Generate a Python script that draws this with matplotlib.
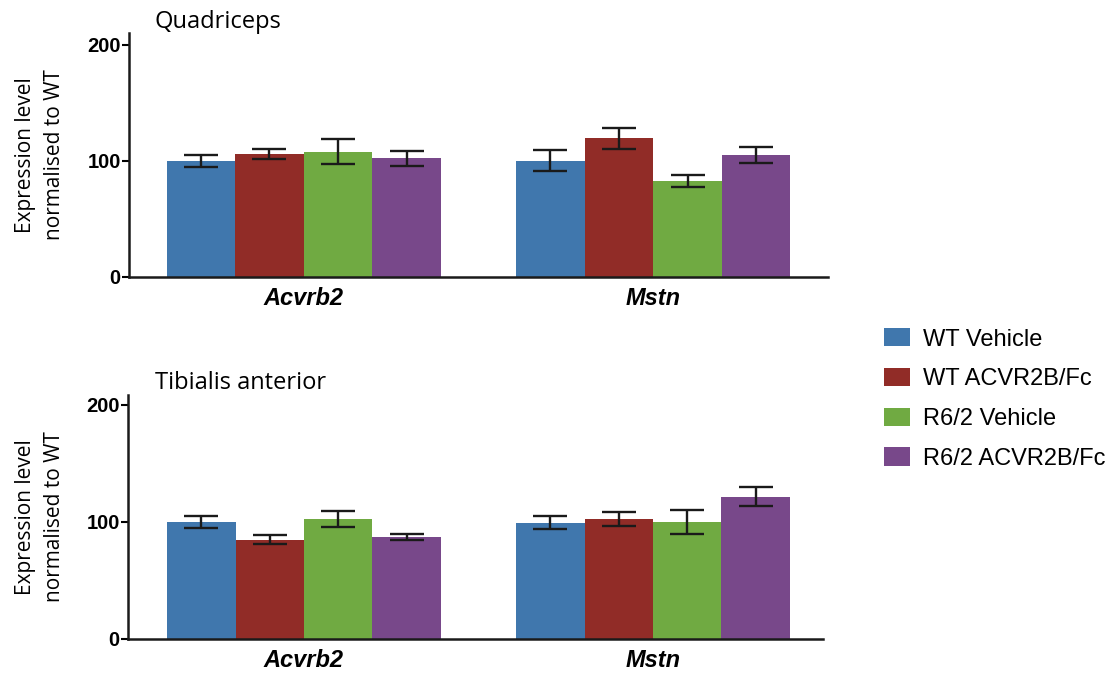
import matplotlib.pyplot as plt
from matplotlib.patches import Patch
import numpy as np

genes = ['Acvrb2', 'Mstn']
groups = ['WT Vehicle', 'WT ACVR2B/Fc', 'R6/2 Vehicle', 'R6/2 ACVR2B/Fc']
colors = ['#4077ad', '#912c27', '#70aa42', '#78488a']

# quadriceps: mean and error per group, one value per gene
quad_mean = [[100, 100], [106, 119.5], [108, 82.5], [102, 105]]
quad_err = [[5, 9], [4.3, 9], [10.6, 5], [6.5, 7.2]]

# tibialis anterior
ta_mean = [[100, 99.5], [85, 102.5], [102.5, 100], [87, 121.5]]
ta_err = [[5, 5.2], [3.6, 6], [6.7, 10], [2.6, 8.2]]

W, H = 1114, 673
dpi = 100
fig = plt.figure(dpi=dpi, figsize=(W / dpi, H / dpi))

lab_font = 'Open Sans'
num_font = 'Liberation Sans'


def panel(rect, means, errs, ymax, xlim, title, title_y):
    ax = fig.add_axes(rect)
    x = np.arange(len(genes))
    bw = 0.196
    for i in range(len(groups)):
        ax.bar(x + (i - 1.5) * bw, means[i], bw, color=colors[i],
               linewidth=0, zorder=2)
        ax.errorbar(x + (i - 1.5) * bw, means[i], yerr=errs[i], fmt='none',
                    ecolor='#1a1a1a', elinewidth=1.7, capsize=12.5,
                    capthick=1.7, zorder=3)
    ax.set_xlim(*xlim)
    ax.set_ylim(0, ymax)
    ax.set_yticks([0, 100, 200])
    ax.set_xticks(x)
    ax.set_xticklabels(genes, fontsize=17, fontweight='bold',
                       fontstyle='italic', family=num_font)
    for lab in ax.get_yticklabels():
        lab.set_fontweight('bold')
        lab.set_family(num_font)
        lab.set_fontsize(14.5)
    ax.tick_params(axis='x', length=0, pad=7)
    ax.tick_params(axis='y', length=5, width=1.5, pad=1)
    for s in ['top', 'right']:
        ax.spines[s].set_visible(False)
    for s in ['left', 'bottom']:
        ax.spines[s].set_linewidth(1.8)
        ax.spines[s].set_color('#1a1a1a')
    fig.text(155 / W, 1 - title_y / H, title, fontsize=17, family=lab_font,
             va='baseline', ha='left')
    cy = rect[1] + rect[3] / 2
    fig.text(40 / W, cy, 'Expression level\nnormalised to WT', rotation=90,
             ha='center', va='center', fontsize=15, family=lab_font,
             linespacing=1.55, multialignment='center')
    return ax


panel([129 / W, 1 - 277 / H, 699 / W, 244 / H], quad_mean, quad_err, 210,
      (-0.5, 1.5), 'Quadriceps', 28)
panel([128 / W, 1 - 639 / H, 695 / W, 244 / H], ta_mean, ta_err, 208.5,
      (-0.504, 1.487), 'Tibialis anterior', 389)

handles = [Patch(facecolor=c, edgecolor='none') for c in colors]
fig.legend(handles, groups, loc='center left',
           bbox_to_anchor=(884 / W, 1 - 399 / H), frameon=False,
           prop={'family': num_font, 'size': 17}, borderpad=0,
           borderaxespad=0, handlelength=1.1, handleheight=0.8,
           handletextpad=0.55, labelspacing=0.74)

fig.savefig('out.png', dpi=dpi)
